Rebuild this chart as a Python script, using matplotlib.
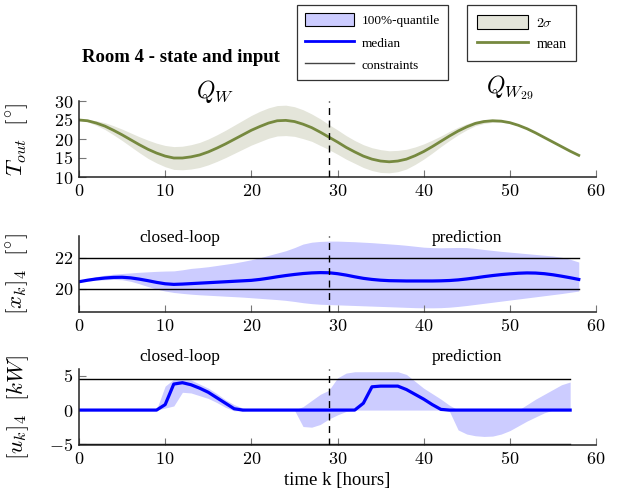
import matplotlib
matplotlib.use("Agg")
import matplotlib.pyplot as plt
from matplotlib.lines import Line2D
from matplotlib.patches import Patch
from matplotlib.ticker import FuncFormatter

plt.rcParams["font.family"] = ["Liberation Serif", "DejaVu Serif"]
plt.rcParams["mathtext.fontset"] = "cm"

# -------------------------
# data
# -------------------------
hours = list(range(59))
t_out_mean = [25.0, 24.8, 24.2, 23.4, 22.3, 21.1, 19.8, 18.5, 17.3, 16.3,
              15.5, 15.0, 15.0, 15.3, 15.8, 16.6, 17.6, 18.7, 19.9, 21.1,
              22.3, 23.3, 24.2, 24.8, 24.9, 24.6, 23.9, 23.0, 21.8, 20.5,
              19.2, 17.8, 16.6, 15.5, 14.7, 14.2, 14.0, 14.2, 14.7, 15.6,
              16.7, 18.0, 19.4, 20.8, 22.1, 23.2, 24.1, 24.6, 24.8, 24.7,
              24.3, 23.6, 22.7, 21.6, 20.4, 19.2, 18.0, 16.8, 15.7]
t_out_2sigma = [0.0, 0.3, 0.6, 0.9, 1.2, 1.5, 1.8, 2.1, 2.4, 2.6,
                2.8, 3.0, 3.1, 3.2, 3.3, 3.4, 3.5, 3.6, 3.7, 3.8,
                3.9, 4.0, 4.0, 4.0, 4.0, 3.9, 3.8, 3.6, 3.5, 3.3,
                3.2, 3.1, 3.0, 3.0, 3.0, 3.0, 2.9, 2.8, 2.6, 2.3,
                2.0, 1.7, 1.4, 1.2, 1.0, 0.8, 0.6, 0.5, 0.4, 0.3,
                0.2, 0.1, 0.0, 0.0, 0.0, 0.0, 0.0, 0.0, 0.0]

x_median = [20.45, 20.55, 20.63, 20.69, 20.73, 20.74, 20.70, 20.62, 20.52, 20.41,
            20.32, 20.28, 20.30, 20.33, 20.36, 20.39, 20.42, 20.45, 20.48, 20.51,
            20.54, 20.60, 20.68, 20.77, 20.85, 20.92, 20.98, 21.02, 21.04, 21.03,
            20.97, 20.88, 20.77, 20.67, 20.60, 20.55, 20.52, 20.51, 20.50, 20.50,
            20.50, 20.50, 20.51, 20.53, 20.57, 20.63, 20.70, 20.78, 20.85, 20.91,
            20.96, 21.00, 21.02, 21.01, 20.97, 20.90, 20.81, 20.71, 20.60]
x_upper = [20.45, 20.65, 20.78, 20.87, 20.94, 20.98, 21.02, 21.06, 21.09, 21.12,
           21.14, 21.15, 21.22, 21.31, 21.36, 21.42, 21.50, 21.58, 21.66, 21.76,
           21.87, 22.00, 22.15, 22.30, 22.45, 22.65, 22.88, 23.00, 23.05, 23.07,
           23.07, 23.05, 23.03, 23.00, 22.97, 22.93, 22.89, 22.85, 22.80, 22.74,
           22.68, 22.65, 22.64, 22.65, 22.66, 22.65, 22.60, 22.53, 22.47, 22.41,
           22.36, 22.31, 22.26, 22.21, 22.16, 22.11, 22.03, 21.90, 21.72]
x_lower = [20.45, 20.50, 20.55, 20.58, 20.60, 20.58, 20.48, 20.32, 20.14, 19.98,
           19.85, 19.76, 19.70, 19.65, 19.61, 19.58, 19.55, 19.52, 19.49, 19.46,
           19.42, 19.38, 19.34, 19.30, 19.25, 19.18, 19.10, 19.04, 19.00, 18.98,
           18.96, 18.94, 18.92, 18.90, 18.88, 18.86, 18.84, 18.82, 18.80, 18.78,
           18.77, 18.77, 18.78, 18.81, 18.86, 18.92, 18.99, 19.06, 19.13, 19.20,
           19.27, 19.34, 19.41, 19.48, 19.55, 19.62, 19.69, 19.77, 19.85]
x_constraints = [20.0, 22.0]

hours_u = list(range(58))
u_median = [0, 0, 0, 0, 0, 0, 0, 0, 0, 0,
            0.8, 3.8, 4.0, 3.7, 3.2, 2.6, 1.8, 1.0, 0.2, 0,
            0, 0, 0, 0, 0, 0, 0, 0, 0, 0,
            0, 0, 0, 1.0, 3.4, 3.5, 3.5, 3.5, 3.0, 2.3,
            1.6, 0.8, 0.1, 0, 0, 0, 0, 0, 0, 0,
            0, 0, 0, 0, 0, 0, 0, 0]
u_upper = [0, 0, 0, 0, 0, 0, 0, 0, 0, 0.1,
           3.5, 4.5, 4.6, 4.4, 3.8, 3.2, 2.4, 1.5, 0.8, 0.3,
           0, 0, 0, 0, 0, 0, 0.5, 1.4, 2.3, 2.9,
           4.7, 5.4, 5.6, 5.6, 5.6, 5.6, 5.6, 5.6, 5.2, 4.2,
           3.2, 2.4, 1.6, 0.7, 0, 0, 0, 0, 0, 0,
           0, 0, 0.8, 1.6, 2.3, 3.0, 3.7, 4.1]
u_lower = [0, 0, 0, 0, 0, 0, 0, 0, 0, 0,
           0.3, 0.6, 2.6, 2.5, 2.1, 1.7, 1.1, 0.4, -0.1, -0.1,
           0, 0, 0, 0, 0, 0, -2.4, -2.5, -2.1, -1.3,
           -0.7, -0.2, 0, 0, 0, 0, 0, 0, 0, 0,
           0, 0, 0, -0.2, -2.9, -3.5, -3.75, -3.85, -3.8, -3.5,
           -3.0, -2.3, -1.6, -1.0, -0.4, 0, 0, 0]
u_constraints = [-4.9, 4.5]

split_hour = 29

# -------------------------
# styling
# -------------------------
BAND_BLUE = "#ccccff"
MEDIAN_BLUE = "#0000ff"
BAND_OLIVE = "#e4e5da"
MEAN_OLIVE = "#76893f"
W, H = 623, 498


def px_axes(top, bottom):
    return [79 / W, 1 - bottom / H, 517 / W, (bottom - top) / H]


def style_axis(ax, ylim, yticks):
    ax.set_xlim(0, 60)
    ax.set_ylim(*ylim)
    ax.set_xticks(range(0, 61, 10))
    ax.set_yticks(yticks)
    ax.spines["top"].set_visible(False)
    ax.spines["right"].set_visible(False)
    for s in ("left", "bottom"):
        ax.spines[s].set_linewidth(1.1)
        ax.spines[s].set_color("#222222")
    ax.tick_params(direction="in", length=5, width=0.8, color="#777777",
                   labelsize=13, pad=4)
    fmt = FuncFormatter(lambda v, p: f"${v:g}$")
    ax.xaxis.set_major_formatter(fmt)
    ax.yaxis.set_major_formatter(fmt)
    ax.axvline(split_hour, color="black", ls=(0, (5, 4)), lw=1.0, zorder=5)
    ax.yaxis.set_label_coords(-0.092, 0.5)


fig = plt.figure(figsize=(W / 100, H / 100), dpi=100)

# top: outside temperature
ax1 = fig.add_axes(px_axes(101, 177))
lo = [m - s for m, s in zip(t_out_mean, t_out_2sigma)]
hi = [m + s for m, s in zip(t_out_mean, t_out_2sigma)]
ax1.fill_between(hours, lo, hi, color=BAND_OLIVE, lw=0)
ax1.plot(hours, t_out_mean, color=MEAN_OLIVE, lw=2.0)
style_axis(ax1, (10, 30), range(10, 31, 5))
ax1.set_ylabel(r"$T_{out}\ \ [^{\circ}]$", fontsize=16.5)
ax1.text(15.8, 32.6, r"$Q_W$", fontsize=17, ha="center", va="center", clip_on=False)
ax1.text(50.0, 33.4, r"$Q_{W_{29}}$", fontsize=17, ha="center", va="center", clip_on=False)

# middle: state
ax2 = fig.add_axes(px_axes(236, 312))
ax2.fill_between(hours, x_lower, x_upper, color=BAND_BLUE, lw=0)
for c in x_constraints:
    ax2.axhline(c, xmax=58 / 60, color="black", lw=1.0)
ax2.plot(hours, x_median, color=MEDIAN_BLUE, lw=2.3)
style_axis(ax2, (18.5, 23.4), [20, 22])
ax2.set_ylabel(r"$[x_k]_4\ \ [^{\circ}]$", fontsize=16.5)
ax2.text(11.7, 23.3, "closed-loop", fontsize=12.5, ha="center", va="center")
ax2.text(45.0, 23.3, "prediction", fontsize=12.5, ha="center", va="center")

# bottom: input
ax3 = fig.add_axes(px_axes(369, 445))
ax3.fill_between(hours_u, u_lower, u_upper, color=BAND_BLUE, lw=0)
for c in u_constraints:
    ax3.axhline(c, xmax=57 / 60, color="black", lw=1.0)
ax3.plot(hours_u, u_median, color=MEDIAN_BLUE, lw=2.3)
style_axis(ax3, (-5.1, 6.0), [-5, 0, 5])
ax3.set_ylabel(r"$[u_k]_4\ \ [kW]$", fontsize=16.5)
ax3.text(11.7, 7.7, "closed-loop", fontsize=12.5, ha="center", va="center", clip_on=False)
ax3.text(45.0, 7.7, "prediction", fontsize=12.5, ha="center", va="center", clip_on=False)
ax3.set_xlabel("time k [hours]", fontsize=13.5, labelpad=3)

fig.text(181 / W, 1 - 58 / H, "Room 4 - state and input", fontsize=13.5,
         fontweight="bold", ha="center", va="center")

# legends
h_quant = [Patch(facecolor=BAND_BLUE, edgecolor="black", lw=0.8),
           Line2D([], [], color=MEDIAN_BLUE, lw=2.0),
           Line2D([], [], color="#444444", lw=1.0)]
leg1 = fig.legend(h_quant, ["100%-quantile", "median", "constraints"],
                  loc="upper left", bbox_to_anchor=(297 / W, 1 - 5 / H),
                  fontsize=9.5, frameon=True, fancybox=False, handlelength=3.7,
                  handleheight=1.2, handletextpad=0.6, labelspacing=0.62,
                  borderpad=0.6, borderaxespad=0)
leg1.get_frame().set_edgecolor("black")
leg1.get_frame().set_linewidth(0.9)

h_sigma = [Patch(facecolor=BAND_OLIVE, edgecolor="black", lw=0.8),
           Line2D([], [], color=MEAN_OLIVE, lw=2.0)]
leg2 = fig.legend(h_sigma, [r"$2\sigma$", "mean"],
                  loc="upper left", bbox_to_anchor=(467 / W, 1 - 5 / H),
                  fontsize=10, frameon=True, fancybox=False, handlelength=3.7,
                  handleheight=1.2, handletextpad=0.6, labelspacing=0.5,
                  borderpad=0.7, borderaxespad=0)
leg2.get_frame().set_edgecolor("black")
leg2.get_frame().set_linewidth(0.9)

fig.savefig("out.png", dpi=100)
